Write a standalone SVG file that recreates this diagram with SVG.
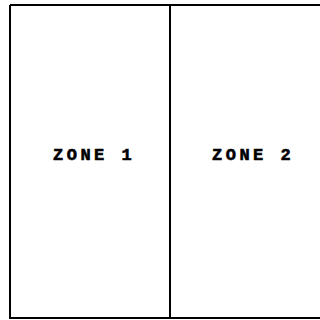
<svg xmlns="http://www.w3.org/2000/svg" width="320" height="320" viewBox="0 0 320 320">
<style>
.ln{stroke:#000;stroke-width:2;fill:none}
.lb{font-family:"Liberation Mono","Courier New",monospace;font-weight:bold;font-size:17px;letter-spacing:3.5px;fill:#000;stroke:#000;stroke-width:0.6}
</style>
<rect width="320" height="320" fill="#fff"/>
<g id="frame">
<path class="ln" d="M10,5 H320 M10,5 V318 H320"/>
</g>
<g id="zone1">
<text class="lb" x="53" y="160">ZONE 1</text>
</g>
<g id="divider">
<line class="ln" x1="170" y1="5" x2="170" y2="318"/>
</g>
<g id="zone2">
<text class="lb" x="212" y="160">ZONE 2</text>
</g>
</svg>
